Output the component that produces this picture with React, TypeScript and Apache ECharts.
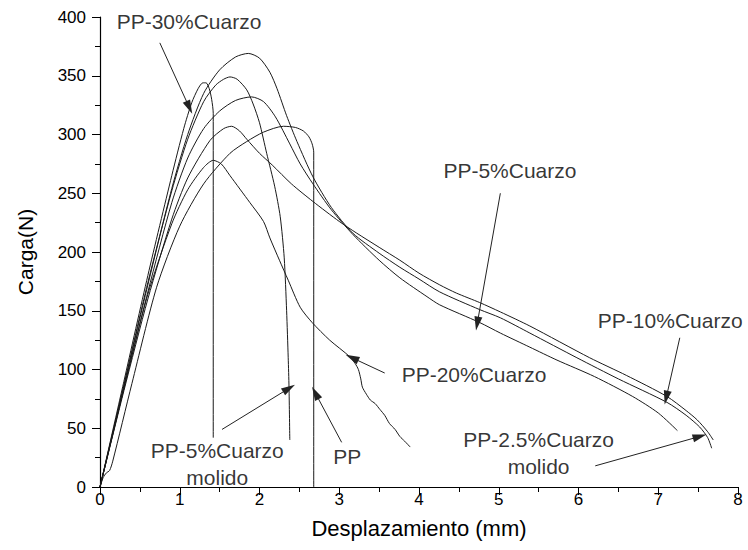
import React, { useEffect, useRef } from "react";
import * as echarts from "echarts";

// ---- data (x: Desplazamiento mm, y: Carga N) ----
const pp = [[0,0],[0.04,8],[0.08,12],[0.12,14],[0.16,22],[0.4,88],[0.71,170],[1.0,222],[1.3,258],[1.63,284],[1.84,294],[2.05,302],[2.3,307],[2.45,306],[2.55,303],[2.62,298],[2.66,292],[2.68,285],[2.68,0]];
const pp30 = [[0,0],[0.3,90],[0.6,180],[0.9,265],[1.05,305],[1.15,327],[1.23,339],[1.29,344],[1.33,344],[1.37,339],[1.4,330],[1.42,318],[1.42,42]];
const pp5molido = [[0,0],[0.3,87],[0.6,174],[0.9,252],[1.1,296],[1.3,328],[1.45,342],[1.55,347],[1.63,349],[1.72,347],[1.84,338],[1.92,326],[2.0,310],[2.09,284],[2.19,256],[2.26,230],[2.31,195],[2.34,150],[2.36,110],[2.37,85],[2.38,40]];
const pp25molido = [[0,0],[0.3,86],[0.6,172],[0.9,254],[1.1,300],[1.3,335],[1.5,355],[1.7,366],[1.86,369],[2.0,365],[2.13,353],[2.22,339],[2.34,316],[2.47,294],[2.67,264],[2.9,238],[3.17,216],[3.5,199],[3.76,187],[4.0,177],[4.26,166],[4.76,151],[5.02,144],[5.39,131],[5.98,110],[6.5,92],[7.11,72],[7.35,61],[7.52,51],[7.62,42],[7.67,33]];
const pp5 = [[0,0],[0.3,84],[0.6,166],[0.9,242],[1.1,280],[1.3,305],[1.5,320],[1.7,329],[1.9,332],[2.05,328],[2.2,315],[2.38,292],[2.51,275],[2.67,258],[2.9,236],[3.17,215],[3.5,193],[3.76,178],[4.1,162],[4.26,155],[4.76,140],[5.02,131],[5.39,119],[5.73,108],[6.2,94],[6.68,77],[7.0,63],[7.24,48]];
const pp10 = [[0,0],[0.3,82],[0.6,160],[0.9,228],[1.1,263],[1.38,295],[1.55,305],[1.65,307],[1.75,303],[1.84,296],[2.0,284],[2.16,274],[2.4,258],[2.67,243],[3.0,226],[3.22,216],[3.5,204],[3.76,193],[4.0,182],[4.26,172],[4.47,165],[4.76,157],[5.02,149],[5.39,137],[6.14,110],[6.6,95],[7.11,77],[7.35,65],[7.49,57],[7.62,47],[7.69,40]];
const pp20 = [[0,0],[0.3,84],[0.6,164],[0.9,224],[1.1,253],[1.3,272],[1.42,278],[1.52,275],[1.63,265],[1.88,242],[2.05,226],[2.13,212],[2.25,193],[2.36,176],[2.51,153],[2.66,140],[2.88,125],[3.13,111],[3.2,105],[3.24,100],[3.27,92],[3.29,85],[3.34,79],[3.39,74],[3.45,71],[3.51,66],[3.57,61],[3.63,54],[3.7,49],[3.76,43],[3.82,39],[3.89,34]];

const seriesNames = ["PP", "PP-30%Cuarzo", "PP-5%Cuarzo molido", "PP-2.5%Cuarzo molido", "PP-5%Cuarzo", "PP-10%Cuarzo", "PP-20%Cuarzo"];
const seriesData = [pp, pp30, pp5molido, pp25molido, pp5, pp10, pp20];

// annotation texts (data coordinates of text centres)
const labelTexts = ["PP-30%Cuarzo", "PP-5%Cuarzo", "PP-10%Cuarzo", "PP-2.5%Cuarzo\nmolido", "PP-20%Cuarzo", "PP", "PP-5%Cuarzo\nmolido"];
const labelPos = [[1.116, 396], [5.14, 269], [7.15, 142], [5.5, 29], [4.69, 96], [3.1, 26], [1.47, 20]];

// arrows: [fromX, fromY, toX, toY]
const arrows = [
  [0.75, 378, 1.12, 323],
  [5.02, 250, 4.73, 139],
  [7.27, 127, 7.1, 76],
  [6.21, 18, 7.52, 43],
  [3.57, 97, 3.16, 110],
  [3.03, 38, 2.7, 80],
  [1.53, 49, 2.37, 84],
];

const FONT = "'Liberation Sans', Arial, Helvetica, sans-serif";

export default function App() {
  const ref = useRef<HTMLDivElement>(null);
  useEffect(() => {
    if (!ref.current) return;
    const chart = echarts.init(ref.current, undefined, { renderer: "svg" });
    const lineSeries = seriesData.map((d, i) => ({
      name: seriesNames[i],
      type: "line",
      data: d,
      showSymbol: false,
      symbol: "none",
      smooth: 0.25,
      lineStyle: { color: "#1a1a1a", width: 1 },
      silent: true,
      z: 2,
      ...(i === 0
        ? {
            markLine: {
              silent: true,
              symbol: ["none", "triangle"],
              symbolSize: [8, 14],
              label: { show: false },
              lineStyle: { color: "#222", width: 1, type: "solid" },
              itemStyle: { color: "#000" },
              emphasis: { disabled: true },
              data: arrows.map((a) => [
                { coord: [a[0], a[1]] },
                { coord: [a[2], a[3]] },
              ]),
            },
          }
        : {}),
    }));
    chart.setOption({
      animation: false,
      backgroundColor: "#fff",
      grid: { left: 100, right: 10, top: 17, bottom: 63, containLabel: false },
      xAxis: {
        type: "value",
        min: 0,
        max: 8,
        interval: 1,
        name: "Desplazamiento (mm)",
        nameLocation: "middle",
        nameGap: 30,
        nameTextStyle: { fontSize: 22, color: "#000", fontFamily: FONT },
        axisLine: { show: true, onZero: false, lineStyle: { color: "#000", width: 1.2 } },
        axisTick: { show: true, length: 8, lineStyle: { color: "#000" } },
        minorTick: { show: true, splitNumber: 2, length: 5, lineStyle: { color: "#000" } },
        splitLine: { show: false },
        axisLabel: { fontSize: 17, color: "#000", margin: 4, fontFamily: FONT },
      },
      yAxis: {
        type: "value",
        min: 0,
        max: 400,
        interval: 50,
        name: "Carga(N)",
        nameLocation: "middle",
        nameGap: 64,
        nameTextStyle: { fontSize: 21, color: "#000", fontFamily: FONT },
        axisLine: { show: true, onZero: false, lineStyle: { color: "#000", width: 1.2 } },
        axisTick: { show: true, length: 8, lineStyle: { color: "#000" } },
        minorTick: { show: true, splitNumber: 2, length: 5, lineStyle: { color: "#000" } },
        splitLine: { show: false },
        axisLabel: { fontSize: 17, color: "#000", margin: 14, fontFamily: FONT },
      },
      series: [
        ...lineSeries,
        {
          name: "labels",
          type: "scatter",
          silent: true,
          symbolSize: 1,
          itemStyle: { color: "transparent" },
          z: 5,
          data: labelPos.map((p, i) => ({ value: p, name: labelTexts[i] })),
          label: {
            show: true,
            position: "inside",
            formatter: "{b}",
            fontSize: 21,
            lineHeight: 27,
            color: "#000",
            align: "center",
            fontFamily: FONT,
          },
        },
      ],
    });
    return () => chart.dispose();
  }, []);
  return (
    <div
      ref={ref}
      style={{ position: "fixed", left: 0, top: 0, width: 748, height: 550, background: "#fff" }}
    />
  );
}
